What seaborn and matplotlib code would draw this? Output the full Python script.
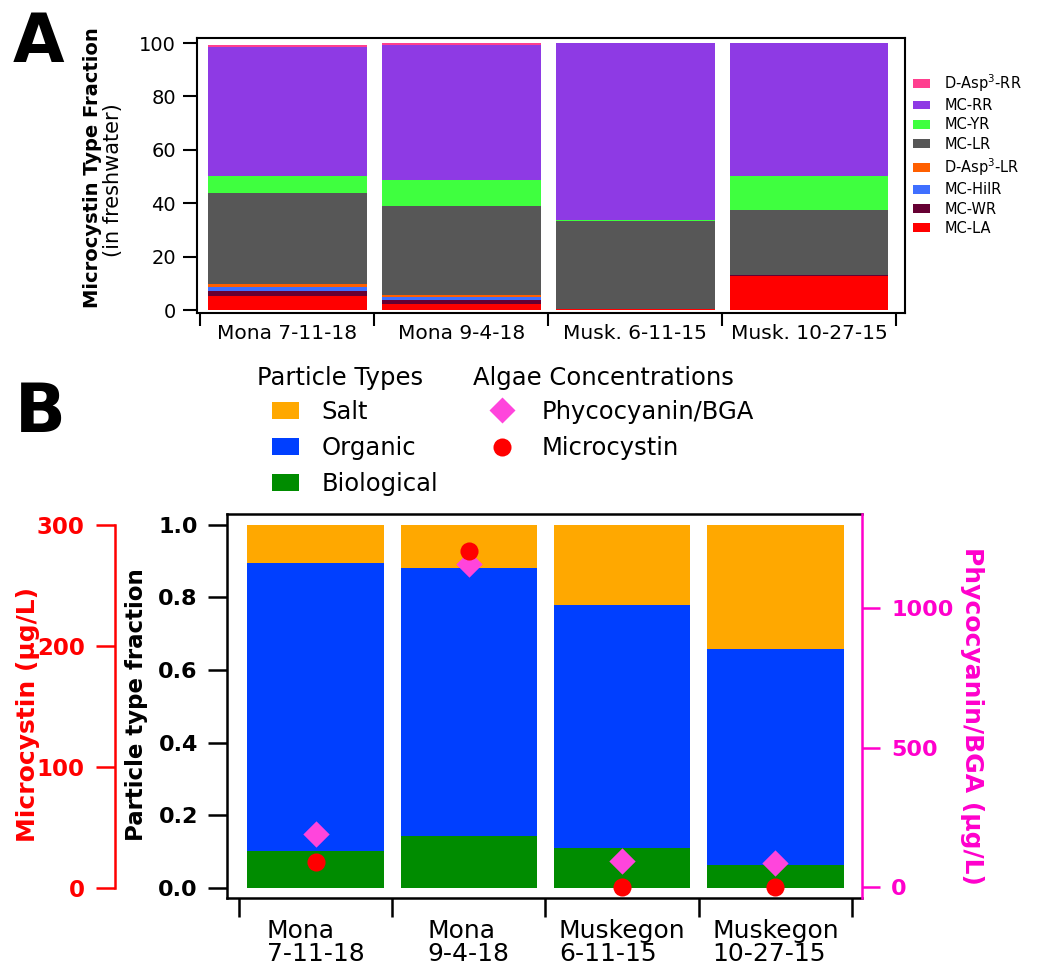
import numpy as np
import pandas as pd
import matplotlib
matplotlib.use("Agg")
import matplotlib.pyplot as plt
from matplotlib.ticker import FormatStrFormatter
from matplotlib.patches import Patch
from matplotlib.lines import Line2D
import seaborn as sns

# ---------------- Panel A data (percent, stacked bottom -> top) ----------------
sites_a = ["Mona 7-11-18", "Mona 9-4-18", "Musk. 6-11-15", "Musk. 10-27-15"]
mc_names = ["MC-LA", "MC-WR", "MC-HilR", "D-Asp$^3$-LR", "MC-LR", "MC-YR", "MC-RR", "D-Asp$^3$-RR"]
mc_la = [5.2, 2.4, 0.5, 12.7]
mc_wr = [1.9, 1.5, 0.0, 0.3]
mc_hilr = [1.6, 1.1, 0.0, 0.0]
dasp_lr = [1.0, 0.75, 0.0, 0.0]
mc_lr = [34.1, 33.2, 32.8, 24.5]
mc_yr = [6.4, 9.7, 0.3, 12.7]
mc_rr = [48.2, 50.6, 66.4, 49.8]
dasp_rr = [0.8, 0.7, 0.0, 0.0]

# ---------------- Panel B data ----------------
sites_b = ["Mona\n7-11-18", "Mona\n9-4-18", "Muskegon\n6-11-15", "Muskegon\n10-27-15"]
particle_names = ["Biological", "Organic", "Salt"]
biological = [0.102, 0.144, 0.109, 0.063]
organic = [0.794, 0.738, 0.671, 0.595]
salt = [0.104, 0.118, 0.220, 0.342]
phycocyanin = [190, 1157, 93, 87]
microcystin = [21.5, 278.5, 0.5, 0.5]

# ---------------- styles ----------------
mc_colors = ["#FF0000", "#660033", "#3F6FFF", "#FF5F00", "#575757", "#3FFF3F", "#8E3AE4", "#FF3F8F"]
particle_colors = ["#008C00", "#003FFF", "#FFA800"]
magenta = "#FF00CC"
diamond_col = "#FF45DC"
red = "#FF0000"

sns.set_style("ticks")
plt.rcParams['font.family'] = ['DejaVu Sans']
plt.rcParams['axes.linewidth'] = 1.5
plt.rcParams['text.color'] = 'black'
plt.rcParams['axes.labelcolor'] = 'black'
plt.rcParams['xtick.color'] = 'black'
plt.rcParams['ytick.color'] = 'black'
plt.rcParams['xtick.labelcolor'] = 'black'
plt.rcParams['ytick.labelcolor'] = 'black'

W, H = 1037, 968
fig = plt.figure(figsize=(W / 100, H / 100), dpi=100)

# ================= Panel A =================
axA = fig.add_axes([197 / W, 1 - 313 / H, (905 - 197) / W, (313 - 38) / H])
layers_a = [mc_la, mc_wr, mc_hilr, dasp_lr, mc_lr, mc_yr, mc_rr, dasp_rr]
cum_a = np.cumsum(np.array(layers_a), axis=0)
for k in range(len(layers_a) - 1, -1, -1):
    df = pd.DataFrame({"site": sites_a, "value": cum_a[k]})
    sns.barplot(data=df, x="site", y="value", order=sites_a, color=mc_colors[k],
                saturation=1, width=0.91, errorbar=None, linewidth=0, ax=axA)
axA.set_xlabel("")
axA.set_ylabel("")
axA.set_ylim(-1.1, 101.9)
axA.set_yticks([0, 20, 40, 60, 80, 100])
axA.set_xticks(range(4))
axA.set_xticklabels(sites_a)
axA.set_xticks(np.arange(-0.5, 4, 1), minor=True)
axA.tick_params(axis='y', direction='out', length=10, width=1.5, labelsize=14, pad=5,
                color='black', labelcolor='black')
axA.tick_params(axis='x', which='major', length=0, labelsize=14.5, pad=8, labelcolor='black')
axA.tick_params(axis='x', which='minor', length=9, width=1.5, direction='out', color='black')
axA.set_xlim(-0.52, 3.55)
for s in axA.spines.values():
    s.set_visible(True)
    s.set_linewidth(1.5)
    s.set_color('black')

handles_a = []
for name in mc_names[::-1]:
    handles_a.append(Patch(facecolor=mc_colors[mc_names.index(name)], edgecolor='none', label=name))
fig.legend(handles=handles_a, loc='upper left', bbox_to_anchor=(913 / W, 1 - 72 / H),
           frameon=False, fontsize=10.5, handlelength=1.15, handleheight=0.55,
           handletextpad=1.0, labelspacing=0.3, borderpad=0, borderaxespad=0,
           labelcolor='black')

fig.text(93 / W, 1 - 168 / H, "Microcystin Type Fraction", rotation=90, fontsize=14,
         fontweight='bold', ha='center', va='center', color='black')
fig.text(113 / W, 1 - 180 / H, "(in freshwater)", rotation=90, fontsize=15,
         ha='center', va='center', color='black')
fig.text(13 / W, 1 - 62 / H, "A", fontsize=48, fontweight='bold', va='baseline', ha='left',
         color='black')

# ================= Panel B =================
axB = fig.add_axes([227 / W, 1 - 898 / H, (862 - 227) / W, (898 - 514) / H])
layers_b = [biological, organic, salt]
cum_b = np.cumsum(np.array(layers_b), axis=0)
for k in range(len(layers_b) - 1, -1, -1):
    df = pd.DataFrame({"site": sites_b, "value": cum_b[k]})
    sns.barplot(data=df, x="site", y="value", order=sites_b, color=particle_colors[k],
                saturation=1, width=0.89, errorbar=None, linewidth=0, ax=axB)
axB.set_xlabel("")
axB.set_ylabel("")
axB.set_ylim(-0.028, 1.03)
axB.set_yticks(np.arange(0, 1.01, 0.2))
axB.yaxis.set_major_formatter(FormatStrFormatter('%.1f'))
axB.tick_params(axis='y', length=14, width=1.8, labelsize=16, pad=7, color='black',
                labelcolor='black')
axB.set_xticks(range(4))
axB.set_xticklabels(sites_b)
axB.set_xticks(np.arange(-0.5, 4, 1), minor=True)
axB.tick_params(axis='x', which='major', length=0, labelsize=18, pad=15, labelcolor='black')
axB.tick_params(axis='x', which='minor', length=14, width=1.8, direction='out', color='black')
for lab in axB.get_yticklabels():
    lab.set_fontweight('bold')
for lab in axB.get_xticklabels():
    lab.set_multialignment('left')
    lab.set_linespacing(0.98)
for name, s in axB.spines.items():
    s.set_visible(name != 'right')
    s.set_linewidth(1.8)
    s.set_color('black')

# phycocyanin axis (right, magenta)
ax_p = axB.twinx()
sns.scatterplot(x=np.arange(4), y=phycocyanin, marker='D', s=180, color=diamond_col,
                linewidth=0, ax=ax_p, zorder=3)
ax_p.set_ylim(-39, 1337)
ax_p.set_yticks([0, 500, 1000])
ax_p.set_ylabel("")
ax_p.tick_params(axis='y', colors=magenta, labelcolor=magenta, length=13, width=1.8,
                 labelsize=16, pad=8)
for lab in ax_p.get_yticklabels():
    lab.set_fontweight('bold')
for name, s in ax_p.spines.items():
    s.set_visible(name == 'right')
ax_p.spines['right'].set_color(magenta)
ax_p.spines['right'].set_linewidth(1.8)

# microcystin axis (offset left, red)
ax_m = axB.twinx()
sns.scatterplot(x=np.arange(4), y=microcystin, marker='o', s=170, color=red,
                linewidth=0, ax=ax_m, zorder=4)
ax_m.set_ylim(-8.3, 309)
ax_m.set_ylabel("")
ax_m.yaxis.set_ticks_position('left')
ax_m.yaxis.set_label_position('left')
for name, s in ax_m.spines.items():
    s.set_visible(name == 'left')
ax_m.spines['left'].set_position(('axes', -0.176))
ax_m.spines['left'].set_bounds(0, 300)
ax_m.spines['left'].set_color(red)
ax_m.spines['left'].set_linewidth(1.8)
ax_m.set_yticks([0, 100, 200, 300])
ax_m.tick_params(axis='y', colors=red, labelcolor=red, length=14, width=1.8,
                 labelsize=16.5, pad=8)
for lab in ax_m.get_yticklabels():
    lab.set_fontweight('bold')

axB.set_xlim(-0.578, 3.565)

fig.text(137 / W, 1 - 705 / H, "Particle type fraction", rotation=90, fontsize=16.5,
         fontweight='bold', ha='center', va='center', color='black')
fig.text(28 / W, 1 - 715 / H, "Microcystin (µg/L)", rotation=90, fontsize=18,
         fontweight='bold', ha='center', va='center', color=red)
fig.text(972 / W, 1 - 716 / H, "Phycocyanin/BGA (µg/L)", rotation=270, fontsize=18,
         fontweight='bold', ha='center', va='center', color=magenta)
fig.text(15 / W, 1 - 432 / H, "B", fontsize=48, fontweight='bold', va='baseline', ha='left',
         color='black')

# legends panel B
fig.text(257 / W, 1 - 385 / H, "Particle Types", fontsize=17.5, va='baseline', ha='left',
         color='black')
fig.text(473 / W, 1 - 385 / H, "Algae Concentrations", fontsize=17.5, va='baseline', ha='left',
         color='black')
part_handles = [Patch(facecolor=particle_colors[i], edgecolor='none', label=particle_names[i])
                for i in [2, 1, 0]]
fig.legend(handles=part_handles, loc='upper left', bbox_to_anchor=(272 / W, 1 - 400 / H),
           frameon=False, fontsize=17.5, handlelength=1.1, handleheight=0.7,
           handletextpad=0.95, labelspacing=0.5, borderpad=0, borderaxespad=0,
           labelcolor='black')
alg_handles = [Line2D([], [], ls='none', marker='D', ms=13.4, color=diamond_col, mec='none',
                      label='Phycocyanin/BGA'),
               Line2D([], [], ls='none', marker='o', ms=13, color=red, mec='none',
                      label='Microcystin')]
fig.legend(handles=alg_handles, loc='upper left', bbox_to_anchor=(489 / W, 1 - 400 / H),
           frameon=False, fontsize=17.5, handlelength=1.1, handleheight=0.7,
           handletextpad=1.05, labelspacing=0.5, borderpad=0, borderaxespad=0,
           labelcolor='black')

fig.savefig("out.png", dpi=100)
